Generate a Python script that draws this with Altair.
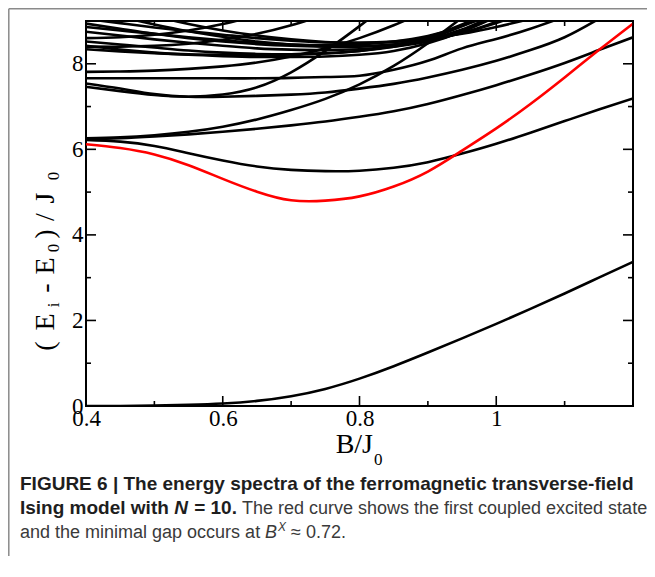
import altair as alt
import pandas as pd

# ---------------- data ----------------
B_START, B_STEP = 0.40, 0.05   # every level is sampled on B = 0.40, 0.45, 0.50, ...

level_ground = [0.0, 0.0, 0.01, 0.03, 0.06, 0.12, 0.23, 0.40, 0.64, 0.93, 1.25, 1.58, 1.92, 2.27, 2.63, 3.00, 3.37]
level_red = [6.12, 6.03, 5.88, 5.63, 5.31, 5.01, 4.81, 4.80, 4.90, 5.13, 5.48, 5.97, 6.49, 7.06, 7.68, 8.32, 8.94]
level_3 = [6.22, 6.18, 6.08, 5.91, 5.74, 5.60, 5.52, 5.49, 5.50, 5.57, 5.70, 5.90, 6.13, 6.39, 6.66, 6.93, 7.19]
level_4 = [6.24, 6.26, 6.30, 6.35, 6.41, 6.48, 6.56, 6.65, 6.76, 6.89, 7.06, 7.27, 7.50, 7.75, 8.02, 8.32, 8.62]
level_5 = [6.26, 6.28, 6.33, 6.41, 6.53, 6.70, 6.92, 7.18, 7.52, 7.95, 8.48, 9.08]
level_6 = [7.54, 7.42, 7.29, 7.23, 7.23, 7.25, 7.28, 7.33, 7.42, 7.53, 7.68, 7.86, 8.07, 8.32, 8.62, 9.05]
level_7 = [7.46, 7.36, 7.27, 7.23, 7.28, 7.45, 7.80, 8.30, 8.88, 9.50]
level_8 = [7.81, 7.82, 7.84, 7.88, 7.94, 8.03, 8.17, 8.36, 8.60, 8.90, 9.25]
level_9 = [7.66, 7.66, 7.66, 7.66, 7.66, 7.66, 7.67, 7.69, 7.72, 7.86, 8.07, 8.36, 8.58, 8.82, 9.10]
level_10 = [8.52, 8.45, 8.38, 8.31, 8.26, 8.23, 8.22, 8.24, 8.30, 8.42, 8.62, 8.92, 9.30]
level_11 = [8.42, 8.33, 8.26, 8.21, 8.18, 8.16, 8.16, 8.17, 8.21, 8.30, 8.48, 8.76, 9.15]
level_12 = [8.34, 8.29, 8.25, 8.22, 8.21, 8.21, 8.22, 8.25, 8.30, 8.40, 8.58, 8.88, 9.25]
level_13 = [8.94, 8.82, 8.70, 8.60, 8.52, 8.46, 8.42, 8.40, 8.40, 8.45, 8.57, 8.80, 9.15]
level_14 = [8.86, 8.78, 8.70, 8.62, 8.55, 8.49, 8.45, 8.43, 8.45, 8.52, 8.65, 8.88, 9.20]
level_15 = [8.75, 8.66, 8.57, 8.49, 8.42, 8.36, 8.33, 8.32, 8.34, 8.40, 8.52, 8.75, 9.10]
level_16 = [9.05, 8.95, 8.85, 8.76, 8.68, 8.60, 8.54, 8.50, 8.49, 8.52, 8.59, 8.70, 8.86, 9.05]
level_17 = [9.30, 9.10, 8.92, 8.76, 8.63, 8.52, 8.45, 8.41, 8.41, 8.45, 8.55, 8.72, 8.98, 9.30]
level_18 = [9.60, 9.35, 9.12, 8.93, 8.78, 8.66, 8.57, 8.51, 8.49, 8.51, 8.58, 8.72, 8.95, 9.25]
level_19 = [8.60, 8.62, 8.68, 8.78, 8.93, 9.12]
level_20 = [8.40, 8.40, 8.42, 8.47, 8.56, 8.70, 8.90, 9.15]

black_levels = [level_ground, level_3, level_4, level_5, level_6, level_7, level_8, level_9,
                level_10, level_11, level_12, level_13, level_14, level_15, level_16,
                level_17, level_18, level_19, level_20]

x_major = [0.4, 0.6, 0.8, 1.0, 1.2]
x_minor = [0.5, 0.7, 0.9, 1.1]
x_labels = [0.4, 0.6, 0.8, 1.0]
y_major = [0, 2, 4, 6, 8]
y_minor = [1, 3, 5, 7]

# ---------------- build tables ----------------
def to_rows(values, name):
    return [{"B": round(B_START + i * B_STEP, 4), "E": v, "level": name} for i, v in enumerate(values)]

rows = []
for k, lv in enumerate(black_levels):
    rows += to_rows(lv, f"L{k}")
df_black = pd.DataFrame(rows)
df_red = pd.DataFrame(to_rows(level_red, "red"))

# ---------------- layout ----------------
W, H = 547, 385
OX, OY = 86, 21          # page position of the plot origin
SERIF = "Liberation Serif"
SANS = "Liberation Sans"

xs = alt.Scale(domain=[0.4, 1.2], nice=False, zero=False)
ys = alt.Scale(domain=[0, 9], nice=False, zero=False)

axis_style = dict(labelFont=SERIF, labelFontSize=23, labelColor="black", ticks=False,
                  domain=False, grid=False, title=None, labelFlush=False, labelOverlap=False)
AX = alt.Axis(values=x_labels, format="~g", labelPadding=1, **axis_style)
AY = alt.Axis(values=y_major, format="~g", labelPadding=3, **axis_style)

LW = 2.6
lines_black = alt.Chart(df_black).mark_line(color="black", strokeWidth=LW, clip=True,
                                            interpolate="natural").encode(
    x=alt.X("B:Q", scale=xs, axis=AX),
    y=alt.Y("E:Q", scale=ys, axis=AY),
    detail="level:N",
)
line_red = alt.Chart(df_red).mark_line(color="#ff0000", strokeWidth=LW, clip=True,
                                       interpolate="natural").encode(
    x=alt.X("B:Q", scale=xs, axis=AX), y=alt.Y("E:Q", scale=ys, axis=AY))

def xticks(vals, length):
    d = pd.DataFrame({"B": vals})
    bottom = alt.Chart(d).mark_rule(color="black", strokeWidth=1.6).encode(
        x=alt.X("B:Q", scale=xs, axis=AX), y=alt.value(H), y2=alt.value(H - length))
    top = alt.Chart(d).mark_rule(color="black", strokeWidth=1.6).encode(
        x=alt.X("B:Q", scale=xs, axis=AX), y=alt.value(0), y2=alt.value(length))
    return [bottom, top]

def yticks(vals, length):
    d = pd.DataFrame({"E": vals})
    left = alt.Chart(d).mark_rule(color="black", strokeWidth=1.6).encode(
        y=alt.Y("E:Q", scale=ys, axis=AY), x=alt.value(0), x2=alt.value(length))
    right = alt.Chart(d).mark_rule(color="black", strokeWidth=1.6).encode(
        y=alt.Y("E:Q", scale=ys, axis=AY), x=alt.value(W), x2=alt.value(W - length))
    return [left, right]

def text(t, px, py, font=SERIF, size=21, weight="normal", style="normal", color="black",
         angle=0, align="left", baseline="alphabetic"):
    return alt.Chart(pd.DataFrame({"t": [t]})).mark_text(
        font=font, fontSize=size, fontWeight=weight, fontStyle=style, color=color,
        angle=angle, align=align, baseline=baseline).encode(
        text="t:N", x=alt.value(px - OX), y=alt.value(py - OY))

# text width estimate (Helvetica / Liberation Sans metrics, per 1000 em)
REG = {" ": 278, "-": 333, ".": 278, "=": 584, "|": 260, "\u2248": 584, "0": 556, "1": 556, "2": 556,
       "6": 556, "7": 556, "N": 722, "B": 667, "X": 667, "I": 278, "T": 611, "F": 611, "G": 778,
       "U": 722, "R": 722, "E": 667}
REG.update({c: w for c, w in zip("abcdefghijklmnopqrstuvwxyz",
            [556, 556, 500, 556, 556, 278, 556, 556, 222, 222, 500, 222, 833, 556, 556, 556, 556,
             333, 500, 278, 556, 500, 722, 500, 500, 500])})
BOLD = {" ": 278, "-": 333, ".": 278, "=": 584, "|": 280, "0": 556, "1": 556, "6": 556, "N": 722,
        "I": 278, "T": 611, "F": 611, "G": 778, "U": 722, "R": 722, "E": 667}
BOLD.update({c: w for c, w in zip("abcdefghijklmnopqrstuvwxyz",
             [556, 611, 556, 611, 556, 333, 611, 611, 278, 278, 556, 278, 889, 611, 611, 611, 611,
              389, 556, 333, 611, 556, 778, 556, 556, 500])})

def width(s, size, table):
    return sum(table.get(c, 556) for c in s) * size / 1000.0

# caption (leading blanks are collapsed by SVG, so gaps are added to x instead)
CAP_X = 20
BS, RS = 19, 18
INK_B, INK_R = "#1e1e1e", "#3a3a3a"
cap1 = "FIGURE 6 | The energy spectra of the ferromagnetic transverse-field"
cap2a = "Ising model with"
cap2b = "N"
cap2c = "= 10."
cap2d = "The red curve shows the first coupled excited state"
cap3a = "and the minimal gap occurs at"
cap3b = "B"
cap3c = "X"
cap3d = "\u2248 0.72."

SPB = width(" ", BS, BOLD)
SPR = width(" ", RS, REG)
x2b = CAP_X + width(cap2a, BS, BOLD) + SPB
x2c = x2b + width(cap2b, BS, BOLD) + SPB + 1
x2d = x2c + width(cap2c, BS, BOLD) + SPR
x3b = CAP_X + width(cap3a, RS, REG) + SPR
x3c = x3b + width(cap3b, RS, REG) + 1
x3d = x3c + width(cap3c, 12, REG) + SPR

texts = [
    text(cap1, CAP_X, 490, font=SANS, size=BS, weight="bold", color=INK_B),
    text(cap2a, CAP_X, 514, font=SANS, size=BS, weight="bold", color=INK_B),
    text(cap2b, x2b, 514, font=SANS, size=BS, weight="bold", style="italic", color=INK_B),
    text(cap2c, x2c, 514, font=SANS, size=BS, weight="bold", color=INK_B),
    text(cap2d, x2d, 514, font=SANS, size=RS, color=INK_R),
    text(cap3a, CAP_X, 538, font=SANS, size=RS, color=INK_R),
    text(cap3b, x3b, 538, font=SANS, size=RS, style="italic", color=INK_R),
    text(cap3c, x3c, 531, font=SANS, size=12, style="italic", color=INK_R),
    text(cap3d, x3d, 538, font=SANS, size=RS, color=INK_R),
    # x axis title B/J0
    text("B/J", 373, 453, size=28, align="right"),
    text("0", 374, 465, size=17),
]

# y axis title ( E_i - E_0)/J_0, rotated, glyph by glyph (bottom to top)
y_title = [("(", 346, False), ("E", 322, False), ("i", 305, True), ("-", 288, False),
           ("E", 266, False), ("0", 248, True), (")", 234, False), ("/", 217, False),
           ("J", 198, False), ("0", 176, True)]
for g, py, sub in y_title:
    if sub:
        texts.append(text(g, 59, py, size=17, angle=270, align="center"))
    else:
        texts.append(text(g, 54, py, size=28, angle=270, align="center"))

# outer grey frame of the figure panel
frame_d = pd.DataFrame({"a": [0]})
frame = [
    alt.Chart(frame_d).mark_rule(color="#8a8a8a", strokeWidth=1.5).encode(
        x=alt.value(8.8 - OX), y=alt.value(8.8 - OY), y2=alt.value(600)),
    alt.Chart(frame_d).mark_rule(color="#8a8a8a", strokeWidth=1.5).encode(
        x=alt.value(8.8 - OX), x2=alt.value(700), y=alt.value(8.8 - OY)),
]

layers = [lines_black, line_red] + xticks(x_major, 10) + xticks(x_minor, 5) \
    + yticks(y_major, 10) + yticks(y_minor, 5) + texts + frame

chart = alt.layer(*layers).properties(
    width=W, height=H,
    autosize=alt.AutoSizeParams(type="none"),
    padding={"left": OX - 8, "top": OY - 8, "right": 14, "bottom": 150},
).configure_view(stroke="black", strokeWidth=2)

chart.save("out.html", embed_options={"renderer": "svg", "actions": False})
